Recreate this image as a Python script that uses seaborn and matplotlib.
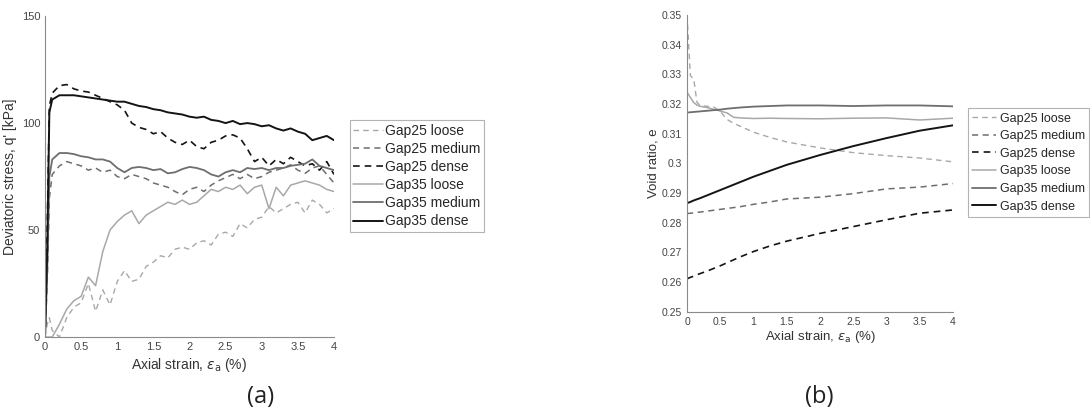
import numpy as np
import pandas as pd
import matplotlib
matplotlib.use("Agg")
import matplotlib.pyplot as plt
import seaborn as sns

# (a) deviatoric stress vs axial strain
strain_a = [0, 0.03, 0.06, 0.1, 0.2, 0.3, 0.4, 0.5, 0.6, 0.7, 0.8, 0.9, 1.0,
            1.1, 1.2, 1.3, 1.4, 1.5, 1.6, 1.7, 1.8, 1.9, 2.0, 2.1, 2.2, 2.3,
            2.4, 2.5, 2.6, 2.7, 2.8, 2.9, 3.0, 3.1, 3.2, 3.3, 3.4, 3.5, 3.6,
            3.7, 3.8, 3.9, 4.0]
q_gap25_loose = [0, 6, 9, 3, 0, 9, 14, 16, 25, 12, 22, 15, 26, 31, 26, 27, 33,
                 35, 38, 37, 41, 42, 41, 44, 45, 43, 48, 49, 47, 53, 51, 55, 56,
                 61, 58, 60, 62, 63, 58, 64, 62, 58, 60]
q_gap25_medium = [0, 25, 65, 76, 80, 82, 81, 80, 78, 79, 77, 78, 75, 74, 76,
                  75, 74, 72, 71, 70, 68, 66.5, 69, 70, 68, 71, 73, 74.5, 76,
                  74, 76, 74, 75, 77, 78, 79, 80.5, 78, 76.5, 79, 80, 76, 72]
q_gap25_dense = [0, 50, 108, 114, 117.5, 118, 116, 115, 114.5, 113, 111.5, 110,
                 108.5, 106, 100, 98, 97, 95, 96, 93, 91, 90, 92, 89, 88, 91,
                 92, 94, 94.5, 93, 88, 82, 84, 80, 83, 81, 84, 82, 80, 81, 78,
                 82, 76]
q_gap35_loose = [0, 0, 0, 0, 6, 13, 17, 19, 28, 24, 40, 50, 54, 57, 59, 53, 57,
                 59, 61, 63, 62, 64, 62, 63, 66, 69, 68, 70, 69, 71, 67, 70, 71,
                 60, 70, 66, 71, 72, 73, 72, 71, 69, 68]
q_gap35_medium = [0, 30, 75, 83, 86, 86, 85.5, 84.5, 84, 83, 83, 82, 79, 77,
                  79, 79.5, 79, 78, 78.5, 76.5, 77, 78.5, 79.5, 79, 78, 76, 75,
                  77, 78, 77, 79, 78.5, 79, 78, 79, 79, 80, 80.5, 81, 83, 80,
                  79, 78]
q_gap35_dense = [0, 40, 105, 111, 113, 113, 113, 112.5, 112, 111.5, 111,
                 110.5, 110, 110, 109, 108, 107.5, 106.5, 106, 105, 104.5, 104,
                 103, 102.5, 103, 101.5, 101, 100, 101, 99.5, 100, 99.5, 98.5,
                 99, 97.5, 96.5, 97.5, 96, 95, 92, 93, 94, 92]

# (b) void ratio vs axial strain
strain_b = [0, 0.05, 0.1, 0.15, 0.2, 0.3, 0.4, 0.5, 0.6, 0.7, 0.8, 1.0, 1.25,
            1.5, 2.0, 2.5, 3.0, 3.5, 4.0]
e_gap25_loose = [0.350, 0.3295, 0.3285, 0.3205, 0.3195, 0.3192, 0.319, 0.3175,
                 0.3148, 0.3135, 0.3125, 0.3105, 0.3087, 0.3072, 0.3052,
                 0.3036, 0.3026, 0.3018, 0.3005]
e_gap25_medium = [0.2831, 0.2832, 0.2833, 0.2835, 0.2836, 0.2839, 0.2842,
                  0.2845, 0.2848, 0.2851, 0.2854, 0.2862, 0.2870, 0.2880,
                  0.2886, 0.2898, 0.2914, 0.2920, 0.2932]
e_gap25_dense = [0.2611, 0.2616, 0.2620, 0.2625, 0.2629, 0.2637, 0.2646,
                 0.2655, 0.2665, 0.2675, 0.2685, 0.2703, 0.2722, 0.2738,
                 0.2764, 0.2787, 0.2810, 0.2832, 0.2843]
e_gap35_loose = [0.3240, 0.3222, 0.3205, 0.3196, 0.3192, 0.3188, 0.3182,
                 0.3176, 0.3170, 0.3155, 0.3153, 0.3151, 0.3152, 0.3151,
                 0.3150, 0.3152, 0.3153, 0.3146, 0.3152]
e_gap35_medium = [0.3171, 0.3172, 0.3173, 0.3174, 0.3175, 0.3177, 0.3179,
                  0.3181, 0.3184, 0.3186, 0.3188, 0.3191, 0.3193, 0.3195,
                  0.3195, 0.3193, 0.3195, 0.3195, 0.3192]
e_gap35_dense = [0.2866, 0.2870, 0.2875, 0.2879, 0.2883, 0.2892, 0.2901,
                 0.2910, 0.2919, 0.2928, 0.2937, 0.2955, 0.2975, 0.2995,
                 0.3028, 0.3058, 0.3085, 0.3110, 0.3128]

labels = ["Gap25 loose", "Gap25 medium", "Gap25 dense",
          "Gap35 loose", "Gap35 medium", "Gap35 dense"]
colors = ["#a8a8a8", "#6e6e6e", "#141414", "#a8a8a8", "#6e6e6e", "#141414"]
styles = ["--", "--", "--", "-", "-", "-"]
widths = [1.0, 1.1, 1.2, 1.1, 1.3, 1.4]

sns.set_style("white")
plt.rcParams["font.family"] = ["Liberation Sans", "DejaVu Sans"]
plt.rcParams["mathtext.fontset"] = "dejavusans"

fig = plt.figure(figsize=(10.9, 4.13), dpi=100)
ax1 = fig.add_axes([0.0413, 0.184, 0.2651, 0.777])
ax2 = fig.add_axes([0.6303, 0.245, 0.2440, 0.719])


def draw(ax, x, series):
    for y, lab, c, ls, lw in zip(series, labels, colors, styles, widths):
        sns.lineplot(x=x, y=y, ax=ax, color=c, linestyle=ls, linewidth=lw,
                     label=lab, estimator=None, sort=False)
        if ls == "--":
            ax.lines[-1].set_dashes((4, 3))


draw(ax1, strain_a, [q_gap25_loose, q_gap25_medium, q_gap25_dense,
                     q_gap35_loose, q_gap35_medium, q_gap35_dense])
draw(ax2, strain_b, [e_gap25_loose, e_gap25_medium, e_gap25_dense,
                     e_gap35_loose, e_gap35_medium, e_gap35_dense])

xt = [0, 0.5, 1, 1.5, 2, 2.5, 3, 3.5, 4]
xtl = ["0", "0.5", "1", "1.5", "2", "2.5", "3", "3.5", "4"]

ax1.set_xlim(0, 4)
ax1.set_ylim(0, 150)
ax1.set_xticks(xt, xtl)
ax1.set_yticks([0, 50, 100, 150], ["0", "50", "100", "150"])
ax1.set_xlabel(r"Axial strain, $\epsilon_{\rm a}$ (%)", fontsize=10, color="#333333", labelpad=3)
ax1.set_ylabel("Deviatoric stress, q' [kPa]", fontsize=10, color="#333333", labelpad=3)

ax2.set_xlim(0, 4)
ax2.set_ylim(0.25, 0.35)
ax2.set_xticks(xt, xtl)
yt = [0.25, 0.26, 0.27, 0.28, 0.29, 0.3, 0.31, 0.32, 0.33, 0.34, 0.35]
ax2.set_yticks(yt, ["0.25", "0.26", "0.27", "0.28", "0.29", "0.3", "0.31",
                    "0.32", "0.33", "0.34", "0.35"])
ax2.set_xlabel(r"Axial strain, $\epsilon_{\rm a}$ (%)", fontsize=9.5, color="#333333", labelpad=2)
ax2.set_ylabel("Void ratio, e", fontsize=9.5, color="#333333", labelpad=2)

for ax, lsz in ((ax1, 8), (ax2, 7.5)):
    sns.despine(ax=ax)
    for s in ("left", "bottom"):
        ax.spines[s].set_color("#8a8a8a")
        ax.spines[s].set_linewidth(0.8)
    ax.tick_params(direction="in", length=3, width=0.6, color="#8a8a8a",
                   labelsize=lsz, labelcolor="#444444", pad=3.5)
    ax.get_legend().remove()

h1, l1 = ax1.get_legend_handles_labels()
leg1 = fig.legend(h1, l1, loc="upper left", bbox_to_anchor=(0.321, 0.709),
                  bbox_transform=fig.transFigure, borderaxespad=0, fontsize=10,
                  frameon=True, fancybox=False, handlelength=2.1,
                  handletextpad=0.2, labelspacing=0.3, borderpad=0.25)
leg1.get_frame().set_edgecolor("#a0a0a0")
leg1.get_frame().set_linewidth(0.8)

h2, l2 = ax2.get_legend_handles_labels()
leg2 = fig.legend(h2, l2, loc="upper left", bbox_to_anchor=(0.888, 0.738),
                  bbox_transform=fig.transFigure, borderaxespad=0, fontsize=9,
                  frameon=True, fancybox=False, handlelength=1.9,
                  handletextpad=0.3, labelspacing=0.45, borderpad=0.35)
leg2.get_frame().set_edgecolor("#a0a0a0")
leg2.get_frame().set_linewidth(0.8)

fig.text(0.2394, 0.039, "(a)", fontsize=17, ha="center", va="center",
         family=["Open Sans", "DejaVu Sans"], color="#222222")
fig.text(0.752, 0.039, "(b)", fontsize=17, ha="center", va="center",
         family=["Open Sans", "DejaVu Sans"], color="#222222")

fig.savefig("out.png", dpi=100)
